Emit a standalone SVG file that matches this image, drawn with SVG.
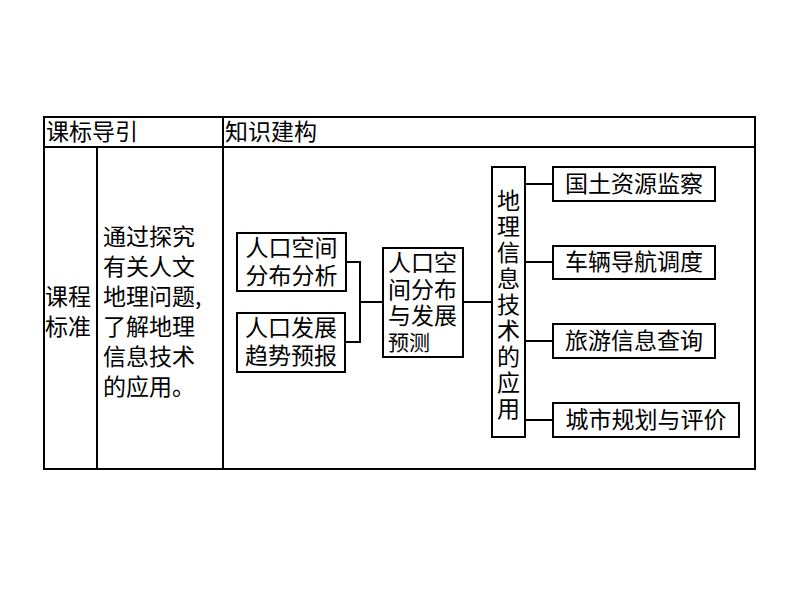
<svg xmlns="http://www.w3.org/2000/svg" width="800" height="600" viewBox="0 0 800 600">
<style>
text{font-family:"Noto Sans CJK SC","Liberation Sans",sans-serif;fill:#000;}
.t{font-size:23px;}
.c{text-anchor:middle;}
.box{fill:#fff;stroke:#000;stroke-width:2;}
.grid{stroke:#000;stroke-width:2;fill:none;}
.conn{stroke:#000;stroke-width:2;fill:none;}
</style>
<rect width="800" height="600" fill="#fff"/>
<g id="table">
<rect class="grid" x="44" y="117" width="711" height="352"/>
<line class="grid" x1="44" y1="469" x2="755" y2="469" stroke-width="3"/>
<line class="grid" x1="44" y1="147" x2="755" y2="147"/>
<line class="grid" x1="223" y1="117" x2="223" y2="469"/>
<line class="grid" x1="97" y1="147" x2="97" y2="469"/>
<text class="t" x="46" y="140">课标导引</text>
<text class="t" x="225" y="140">知识建构</text>
<text class="t" x="45" y="305">课程<tspan x="45" dy="30">标准</tspan></text>
<text class="t" x="103" y="245">通过探究<tspan x="103" dy="30">有关人文</tspan><tspan x="103" dy="30">地理问题,</tspan><tspan x="103" dy="30">了解地理</tspan><tspan x="103" dy="30">信息技术</tspan><tspan x="103" dy="30">的应用。</tspan></text>
</g>
<g id="connectors">
<polyline class="conn" points="346,262 360,262 360,342 345,342"/>
<line class="conn" x1="360" y1="302" x2="383" y2="302"/>
<line class="conn" x1="463" y1="302" x2="492" y2="302"/>
<line class="conn" x1="525" y1="184" x2="553" y2="184"/>
<line class="conn" x1="525" y1="262" x2="553" y2="262"/>
<line class="conn" x1="525" y1="341" x2="553" y2="341"/>
<line class="conn" x1="525" y1="420" x2="553" y2="420"/>
</g>
<g id="n1">
<rect class="box" x="237" y="233" width="109" height="58"/>
<text class="t c" x="291.5" y="256">人口空间<tspan x="291.5" dy="28">分布分析</tspan></text>
</g>
<g id="n2">
<rect class="box" x="237" y="313" width="108" height="59"/>
<text class="t c" x="291" y="336">人口发展<tspan x="291" dy="28">趋势预报</tspan></text>
</g>
<g id="n3">
<rect class="box" x="383" y="248" width="80" height="109"/>
<text class="t" x="388" y="271">人口空<tspan x="388" dy="27">间分布</tspan><tspan x="388" dy="26">与发展</tspan><tspan x="388" dy="26" style="font-size:21px">预测</tspan></text>
</g>
<g id="n4">
<rect class="box" x="492" y="167" width="33" height="270"/>
<text class="t" x="508.5" y="189" style="writing-mode:vertical-rl;letter-spacing:3px">地理信息技术的应用</text>
</g>
<g id="n5">
<rect class="box" x="553" y="167" width="162" height="34"/>
<text class="t c" x="634" y="192">国土资源监察</text>
</g>
<g id="n6">
<rect class="box" x="553" y="246" width="162" height="33"/>
<text class="t c" x="634" y="270">车辆导航调度</text>
</g>
<g id="n7">
<rect class="box" x="553" y="324" width="162" height="34"/>
<text class="t c" x="634" y="349">旅游信息查询</text>
</g>
<g id="n8">
<rect class="box" x="553" y="403" width="186" height="34"/>
<text class="t c" x="646" y="428">城市规划与评价</text>
</g>
</svg>
